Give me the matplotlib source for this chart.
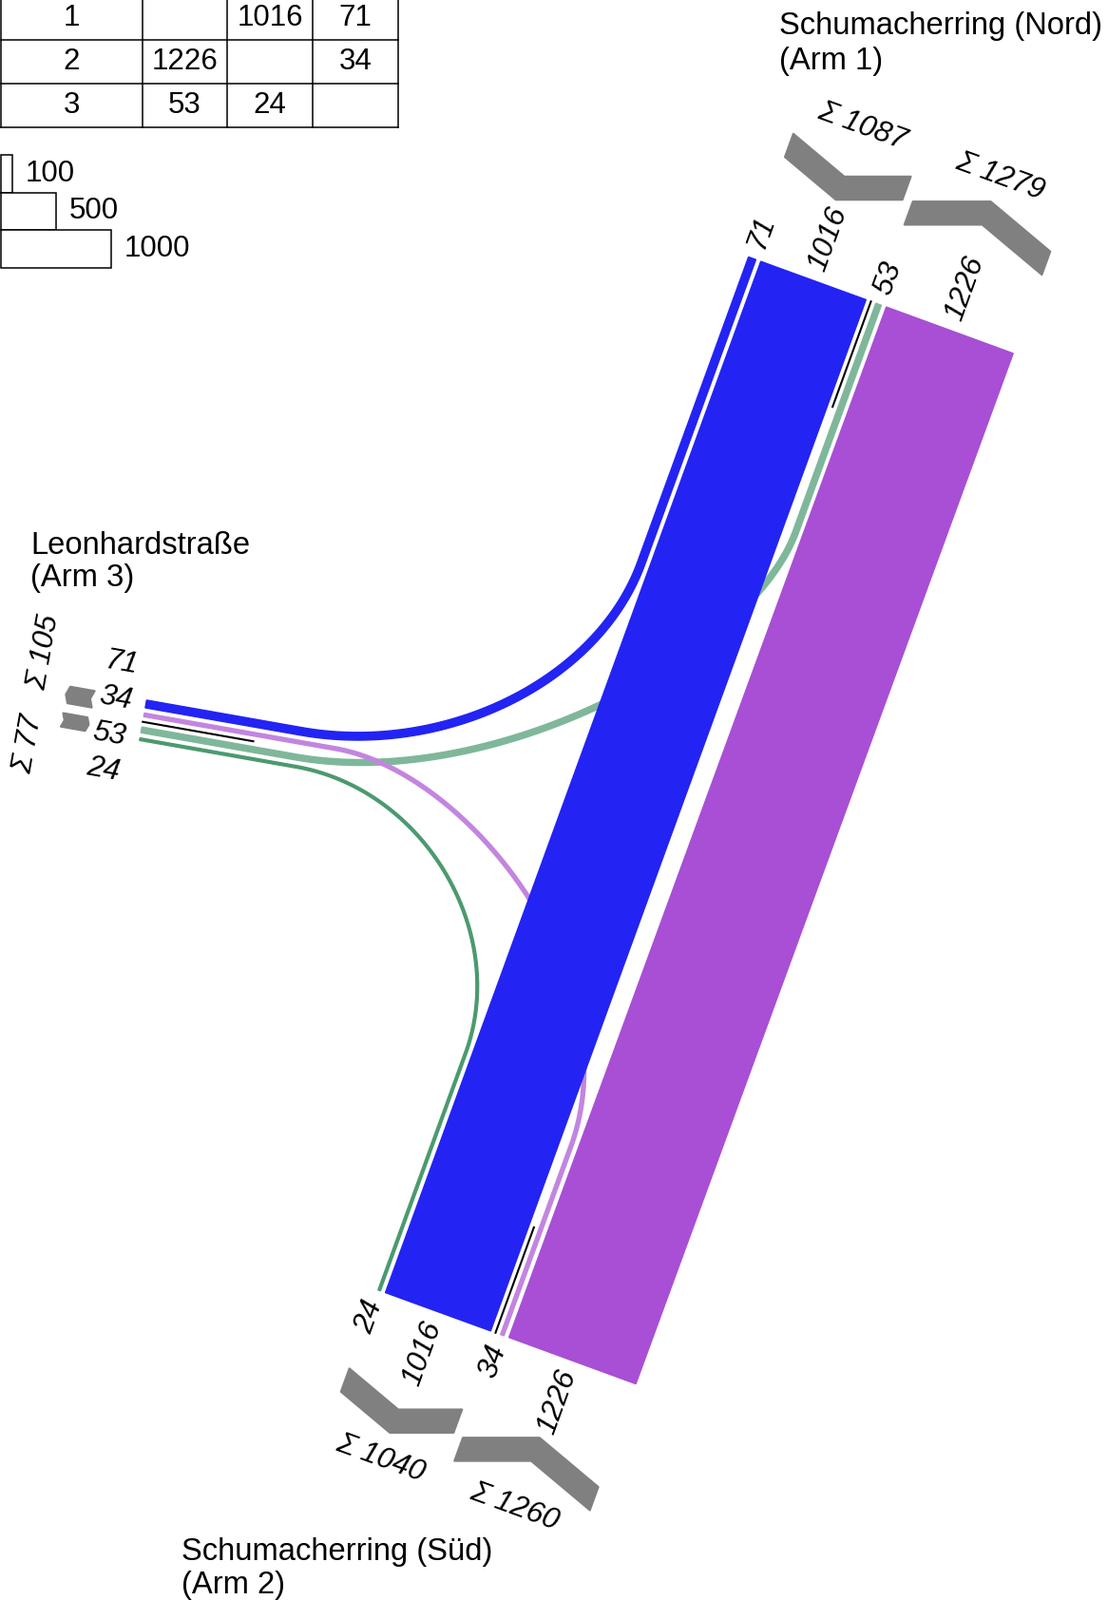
import numpy as np
import matplotlib.pyplot as plt
from matplotlib.patches import Polygon, Rectangle

plt.rcParams['font.family'] = ['Liberation Sans', 'DejaVu Sans']

# traffic flows: origin arm -> destination arm (vehicles)
flow_from = [1, 1, 2, 2, 3, 3]
flow_to = [2, 3, 1, 3, 1, 2]
flow_vol = [1016, 71, 1226, 34, 53, 24]
flow_color = ['#2323f3', '#2323f3', '#a84fd5', '#c385df', '#7fb79b', '#4b9a6f']

arms = [1, 2, 3]
arm_title = ['Schumacherring (Nord)', 'Schumacherring (Süd)', 'Leonhardstraße']
arm_sub = ['(Arm 1)', '(Arm 2)', '(Arm 3)']

legend_vals = [100, 500, 1000]

# ---- layout (pixels of the 1166 x 1684 canvas, y pointing down) ----
W, H = 1166, 1684
CENTER = np.array([719.0, 860.0])
ARM_LEN = 577.5
ARM_ANGLE = [70, 250, 170]          # outward direction of each arm, degrees
K = 0.116                           # px per vehicle
GAP = 5.5
HALF_SEP = 5.5
SEP_LEN = 118
# turning curves: tangent length and handle fraction on origin side / destination side
FILLET = {(1, 3): (240, 280, 0.55, 0.55),
          (3, 1): (420, 330, 0.5, 0.42),
          (2, 3): (375, 381, 0.5, 0.37),
          (3, 2): (275, 270, 0.5, 0.5)}
DRAW_ORDER = [4, 3, 1, 5, 0, 2]
CHEV_D0 = [88, 88, 55.5]
CHEV_TH = 26
CHEV_SLOPE = np.tan(np.radians(20))
SUM_DIST = [170, 166, 115]
SUM_SPREAD = [False, False, True]
LBL_DIST = [12, 12, 15]
LBL_MIN = 38
TITLE_POS = [(820, 36, 72.5), (191, 1642, 1677), (32, 583, 617)]
FS_NUM = 22.5
FS_TITLE = 23.6
GRAY = '#808080'


def arm_dirs(a):
    th = np.radians(ARM_ANGLE[a - 1])
    d = np.array([np.cos(th), -np.sin(th)])
    r = np.array([-d[1], d[0]])
    return d, r


def arm_pt(a, s, t):
    d, r = arm_dirs(a)
    return CENTER + (ARM_LEN + t) * d + s * r


def turn(o, t):
    a_in = ARM_ANGLE[o - 1] + 180
    return (ARM_ANGLE[t - 1] - a_in + 180) % 360 - 180


def upright(vec):
    ang = np.degrees(np.arctan2(-vec[1], vec[0]))
    if ang > 90:
        ang -= 180
    if ang <= -90:
        ang += 180
    read = np.array([np.cos(np.radians(ang)), -np.sin(np.radians(ang))])
    return ang, np.sign(read @ vec)


def bezier(p0, p1, p2, p3, n=120):
    t = np.linspace(0, 1, n)[:, None]
    return (1 - t) ** 3 * p0 + 3 * (1 - t) ** 2 * t * p1 + 3 * (1 - t) * t ** 2 * p2 + t ** 3 * p3


def ribbon(pts, w):
    tang = np.gradient(pts, axis=0)
    tang /= np.linalg.norm(tang, axis=1)[:, None]
    nrm = np.stack([-tang[:, 1], tang[:, 0]], axis=1)
    return np.vstack([pts + nrm * w / 2, (pts - nrm * w / 2)[::-1]])


# lane offsets at each arm (right of the separator = leaving traffic)
n_flows = len(flow_vol)
lane_off = {}
group_span = {}
for a in arms:
    exits = sorted([i for i in range(n_flows) if flow_to[i] == a], key=lambda i: -turn(flow_from[i], flow_to[i]))
    enters = sorted([i for i in range(n_flows) if flow_from[i] == a], key=lambda i: -turn(flow_from[i], flow_to[i]))
    pos = HALF_SEP
    for i in exits:
        w = flow_vol[i] * K
        lane_off[(i, a)] = pos + w / 2
        pos += w + GAP
    group_span[(a, 'exit')] = (HALF_SEP, pos - GAP, [flow_vol[i] for i in exits])
    pos = HALF_SEP
    for i in enters:
        w = flow_vol[i] * K
        lane_off[(i, a)] = -(pos + w / 2)
        pos += w + GAP
    group_span[(a, 'enter')] = (-(pos - GAP), -HALF_SEP, [flow_vol[i] for i in enters])

fig = plt.figure(figsize=(W / 100, H / 100), dpi=100)
ax = fig.add_axes([0, 0, 1, 1])
ax.set_xlim(0, W)
ax.set_ylim(H, 0)
ax.axis('off')

# flow ribbons
for i in DRAW_ORDER:
    o, dst = flow_from[i], flow_to[i]
    A = arm_pt(o, lane_off[(i, o)], 0)
    B = arm_pt(dst, lane_off[(i, dst)], 0)
    if turn(o, dst) == 0:
        pts = np.linspace(A, B, 50)
    else:
        dA, _ = arm_dirs(o)
        dB, _ = arm_dirs(dst)
        lam, mu = np.linalg.solve(np.column_stack([-dA, dB]), B - A)
        Q = A - lam * dA
        TA, TB, fA, fB = FILLET[(o, dst)]
        P0 = Q + TA * dA
        P3 = Q + TB * dB
        curve = bezier(P0, P0 - fA * TA * dA, P3 - fB * TB * dB, P3)
        pts = np.vstack([np.linspace(A, P0, 40)[:-1], curve, np.linspace(P3, B, 40)[1:]])
    ax.add_patch(Polygon(ribbon(pts, flow_vol[i] * K), closed=True, fc=flow_color[i],
                         ec=flow_color[i], lw=1.0, zorder=2))

for a in arms:
    d, r = arm_dirs(a)
    # separator between the two directions
    p, q = arm_pt(a, 0, 0), arm_pt(a, 0, -SEP_LEN)
    ax.plot([p[0], q[0]], [p[1], q[1]], color='black', lw=1.5, zorder=3)

    # chevrons with sums
    for kind in ['exit', 'enter']:
        s0, s1, vols = group_span[(a, kind)]
        m = (s0 + s1) / 2
        amp = (s1 - s0) / 2 * CHEV_SLOPE
        d0 = CHEV_D0[a - 1]
        if kind == 'enter':
            inner = [(s0, d0 + amp), (m, d0), (s1, d0 + amp)]
        else:
            inner = [(s0, d0), (m, d0 + amp), (s1, d0)]
        outer = [(s, t + CHEV_TH) for s, t in inner[::-1]]
        poly = np.array([arm_pt(a, s, t) for s, t in inner + outer])
        ax.add_patch(Polygon(poly, closed=True, fc=GRAY, ec=GRAY, lw=1.5, joinstyle='round', zorder=2))

        ang, sign = upright(r)
        if SUM_SPREAD[a - 1]:
            out = 1 if kind == 'exit' else -1
            ha = 'left' if out * sign > 0 else 'right'
        else:
            ha = 'center'
        tp = arm_pt(a, m, SUM_DIST[a - 1])
        ax.text(tp[0], tp[1], 'Σ ' + str(sum(vols)), fontsize=FS_NUM, style='italic', rotation=ang,
                rotation_mode='anchor', ha=ha, va='center')

    # lane volumes
    lanes = sorted([(lane_off[(i, a)], flow_vol[i]) for i in range(n_flows) if (i, a) in lane_off])
    offs = np.array([s for s, _ in lanes])
    if np.min(np.diff(offs)) < LBL_MIN:
        offs = offs.mean() + (np.arange(len(offs)) - (len(offs) - 1) / 2) * LBL_MIN
    ang, sign = upright(d)
    for s, (_, v) in zip(offs, lanes):
        tp = arm_pt(a, s, LBL_DIST[a - 1])
        ax.text(tp[0], tp[1], str(v), fontsize=FS_NUM, style='italic', rotation=ang, rotation_mode='anchor',
                ha='left' if sign > 0 else 'right', va='center')

    x, y1, y2 = TITLE_POS[a - 1]
    ax.text(x, y1, arm_title[a - 1], fontsize=FS_TITLE, va='baseline', ha='left')
    ax.text(x, y2, arm_sub[a - 1], fontsize=FS_TITLE, va='baseline', ha='left')

# origin/destination table
TAB_X = [1, 150, 239, 329, 419]
TAB_Y0 = -3.5
TAB_ROW_H = 45.8
for k in range(4):
    y = TAB_Y0 + k * TAB_ROW_H
    ax.plot([TAB_X[0], TAB_X[-1]], [y, y], color='black', lw=1.1)
for x in TAB_X:
    ax.plot([x, x], [TAB_Y0, TAB_Y0 + 3 * TAB_ROW_H], color='black', lw=1.1)
for row, o in enumerate(arms):
    yc = TAB_Y0 + (row + 0.5) * TAB_ROW_H
    ax.text((TAB_X[0] + TAB_X[1]) / 2, yc, str(o), fontsize=FS_NUM, ha='center', va='center')
    for col, dst in enumerate(arms):
        vals = [flow_vol[i] for i in range(n_flows) if flow_from[i] == o and flow_to[i] == dst]
        if vals:
            ax.text((TAB_X[col + 1] + TAB_X[col + 2]) / 2, yc, str(vals[0]), fontsize=FS_NUM,
                    ha='center', va='center')

# width legend
LEG_Y0 = 163
LEG_H = 39.5
for k, v in enumerate(legend_vals):
    y = LEG_Y0 + k * LEG_H
    ax.add_patch(Rectangle((1, y), v * K, LEG_H, fc='white', ec='black', lw=1.1))
    ax.text(1 + v * K + 14, y + LEG_H / 2, str(v), fontsize=FS_NUM, ha='left', va='center')

fig.savefig('out.png', dpi=100)
